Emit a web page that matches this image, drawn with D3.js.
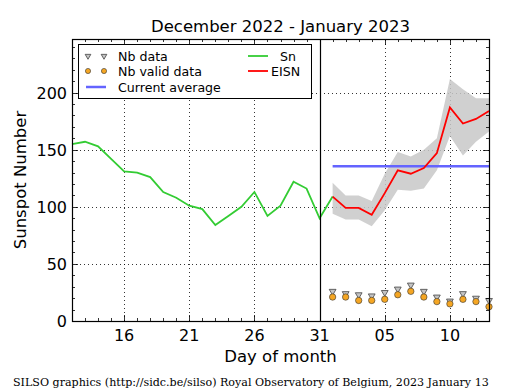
<!DOCTYPE html>
<html>
<head>
<meta charset="utf-8">
<script src="https://cdn.jsdelivr.net/npm/d3@7"></script>
<style>
  body { margin: 0; background: #fff; }
  text { font-family: "DejaVu Sans", sans-serif; fill: #000; }
</style>
</head>
<body>
<svg id="chart" width="515" height="390"></svg>
<script>
// daily Sn, Dec 12 2022 -> Jan 1 2023
var sn_start = "2022-12-12";
var sn_values = [155, 157, 153, 142, 131, 130, 126, 113, 108, 101, 98, 84, 92, 100, 113, 92, 101, 122, 116, 90, 109];

// EISN, Jan 1 -> Jan 13 2023
var eisn_start = "2023-01-01";
var eisn_values = [109, 99, 99, 93, 112, 132, 129, 134, 147, 187, 173, 177, 184];
var eisn_upper = [121, 110, 110, 105, 129, 148, 144, 150, 160, 212, 203, 195, 195];
var eisn_lower = [94, 89, 89, 83, 97, 115, 114, 116, 132, 162, 145, 157, 166];
var nb_data = [26, 24, 23, 22, 25, 28, 31.5, 26, 21, 17.5, 24, 20, 18];
var nb_valid = [21, 21, 18, 18, 19, 23, 26, 21, 17, 15, 19, 17, 12.5];
var current_average = 135.5;

var x_ticks = ["2022-12-16", "2022-12-21", "2022-12-26", "2022-12-31", "2023-01-05", "2023-01-10"];
var y_ticks = [0, 50, 100, 150, 200];

var parse = d3.utcParse("%Y-%m-%d");
var day = 864e5;
function dates_from(start, n) {
    let d0 = parse(start);
    return d3.range(n).map(function (i) { return new Date(d0.getTime() + i * day) });
}
var sn_dates = dates_from(sn_start, sn_values.length);
var eisn_dates = dates_from(eisn_start, eisn_values.length);

var margin = {left: 72, right: 26, top: 39, bottom: 69};
var width = 515, height = 390;
var svg = d3.select("#chart");

var x = d3.scaleUtc()
    .domain([parse("2022-12-12"), parse("2023-01-13")])
    .range([margin.left, width - margin.right]);
var y = d3.scaleLinear()
    .domain([0, 247])
    .range([height - margin.bottom, margin.top]);

var x0 = x.range()[0], x1 = x.range()[1], y0 = y.range()[0], y1 = y.range()[1];

// grid
var grid = svg.append("g").attr("stroke", "#000").attr("stroke-width", 0.8).attr("stroke-dasharray", "1,3");
x_ticks.forEach(function (t) {
    let xx = Math.round(x(parse(t))) + 0.5;
    grid.append("line").attr("x1", xx).attr("x2", xx).attr("y1", y0).attr("y2", y1);
});
y_ticks.slice(1).forEach(function (t) {
    let yy = Math.round(y(t)) + 0.5;
    grid.append("line").attr("x1", x0).attr("x2", x1).attr("y1", yy).attr("y2", yy);
});

// gray band
svg.append("path")
    .datum(eisn_dates.map(function (d, i) { return {d: d, lo: eisn_lower[i], hi: eisn_upper[i]} }))
    .attr("fill", "#c8c8c8").attr("fill-opacity", 0.85)
    .attr("d", d3.area().x(function (p) { return x(p.d) }).y0(function (p) { return y(p.lo) }).y1(function (p) { return y(p.hi) }));

// current average
svg.append("line")
    .attr("x1", x(eisn_dates[0])).attr("x2", x(eisn_dates[eisn_dates.length - 1]))
    .attr("y1", y(current_average)).attr("y2", y(current_average))
    .attr("stroke", "#6464ff").attr("stroke-width", 2.5);

var line = d3.line().x(function (p) { return x(p[0]) }).y(function (p) { return y(p[1]) });

svg.append("path")
    .datum(d3.zip(sn_dates, sn_values))
    .attr("fill", "none").attr("stroke", "#33cc33").attr("stroke-width", 1.8)
    .attr("d", line);

svg.append("path")
    .datum(d3.zip(eisn_dates, eisn_values))
    .attr("fill", "none").attr("stroke", "#ff0000").attr("stroke-width", 1.8)
    .attr("d", line);

// vertical line at Dec 31
var xv = Math.round(x(parse("2022-12-31"))) + 0.5;
svg.append("line").attr("x1", xv).attr("x2", xv).attr("y1", y0).attr("y2", y1)
    .attr("stroke", "#000").attr("stroke-width", 1.2);

var tri = d3.symbol().type(d3.symbolTriangle).size(20);
function draw_triangle(g) {
    g.attr("d", tri).attr("fill", "#c4c4c4").attr("stroke", "#444").attr("stroke-width", 0.8);
}
function draw_circle(g) {
    g.attr("r", 3.2).attr("fill", "#f5a623").attr("stroke", "#333").attr("stroke-width", 0.6);
}

svg.append("g").selectAll("path")
    .data(d3.zip(eisn_dates, nb_data))
    .enter().append("path")
    .attr("transform", function (p) { return "translate(" + x(p[0]) + "," + y(p[1]) + ") rotate(180)" })
    .call(draw_triangle);

svg.append("g").selectAll("circle")
    .data(d3.zip(eisn_dates, nb_valid))
    .enter().append("circle")
    .attr("cx", function (p) { return x(p[0]) })
    .attr("cy", function (p) { return y(p[1]) })
    .call(draw_circle);

// frame
svg.append("rect").attr("x", x0 + 0.5).attr("y", y1 + 0.5).attr("width", x1 - x0).attr("height", y0 - y1)
    .attr("fill", "none").attr("stroke", "#000").attr("stroke-width", 1.2);

// ticks, pointing inward, on all four sides
var ticks = svg.append("g").attr("stroke", "#000").attr("stroke-width", 0.8);
var all_days = d3.utcDay.range(x.domain()[0], new Date(x.domain()[1].getTime() + 1));
all_days.forEach(function (d) {
    let major = x_ticks.indexOf(d3.utcFormat("%Y-%m-%d")(d)) !== -1;
    let len = major ? 6 : 3;
    let xx = Math.round(x(d)) + 0.5;
    ticks.append("line").attr("x1", xx).attr("x2", xx).attr("y1", y0).attr("y2", y0 - len);
    ticks.append("line").attr("x1", xx).attr("x2", xx).attr("y1", y1).attr("y2", y1 + len);
});
d3.range(0, 247, 10).forEach(function (v) {
    let major = v % 50 === 0;
    let len = major ? 6 : 3;
    let yy = Math.round(y(v)) + 0.5;
    ticks.append("line").attr("x1", x0).attr("x2", x0 + len).attr("y1", yy).attr("y2", yy);
    ticks.append("line").attr("x1", x1).attr("x2", x1 - len).attr("y1", yy).attr("y2", yy);
});

// tick labels
svg.append("g").selectAll("text")
    .data(x_ticks).enter().append("text")
    .attr("x", function (t) { return x(parse(t)) })
    .attr("y", y0 + 20)
    .attr("text-anchor", "middle").attr("font-size", 16)
    .text(function (t) { return d3.utcFormat("%d")(parse(t)) });
svg.append("g").selectAll("text")
    .data(y_ticks).enter().append("text")
    .attr("x", x0 - 5)
    .attr("y", function (t) { return y(t) + 6 })
    .attr("text-anchor", "end").attr("font-size", 16)
    .text(function (t) { return t });

svg.append("text").attr("x", (x0 + x1) / 2).attr("y", 32).attr("text-anchor", "middle")
    .attr("font-size", 16.5).text("December 2022 - January 2023");
svg.append("text").attr("x", (x0 + x1) / 2).attr("y", 362).attr("text-anchor", "middle")
    .attr("font-size", 16.5).text("Day of month");
svg.append("text").attr("transform", "translate(26," + ((y0 + y1) / 2) + ") rotate(-90)")
    .attr("text-anchor", "middle").attr("font-size", 16.5).text("Sunspot Number");
svg.append("text").attr("x", 13).attr("y", 386)
    .style("font-family", "'DejaVu Serif', serif").attr("font-size", 11.1)
    .text("SILSO graphics (http://sidc.be/silso) Royal Observatory of Belgium, 2023 January 13");

// legend
var lg = svg.append("g");
lg.append("rect").attr("x", 78.5).attr("y", 44.5).attr("width", 233).attr("height", 54)
    .attr("fill", "#fff").attr("stroke", "#000").attr("stroke-width", 1);
var tri_small = d3.symbol().type(d3.symbolTriangle).size(14);
lg.append("path").attr("transform", "translate(88,56) rotate(180)").call(draw_triangle).attr("d", tri_small);
lg.append("path").attr("transform", "translate(104,56) rotate(180)").call(draw_triangle).attr("d", tri_small);
lg.append("circle").attr("cx", 88).attr("cy", 71).call(draw_circle).attr("r", 2.6);
lg.append("circle").attr("cx", 104).attr("cy", 71).call(draw_circle).attr("r", 2.6);
lg.append("line").attr("x1", 86).attr("x2", 106).attr("y1", 87).attr("y2", 87)
    .attr("stroke", "#6464ff").attr("stroke-width", 2.5);
lg.append("line").attr("x1", 248).attr("x2", 268).attr("y1", 56).attr("y2", 56)
    .attr("stroke", "#33cc33").attr("stroke-width", 1.8);
lg.append("line").attr("x1", 248).attr("x2", 268).attr("y1", 71).attr("y2", 71)
    .attr("stroke", "#ff0000").attr("stroke-width", 1.8);
var legend_labels = [[118, 61, "Nb data"], [118, 76, "Nb valid data"], [118, 92, "Current average"], [280, 61, "Sn"], [271, 76, "EISN"]];
legend_labels.forEach(function (l) {
    lg.append("text").attr("x", l[0]).attr("y", l[1]).attr("font-size", 12.6).text(l[2]);
});
</script>
</body>
</html>
